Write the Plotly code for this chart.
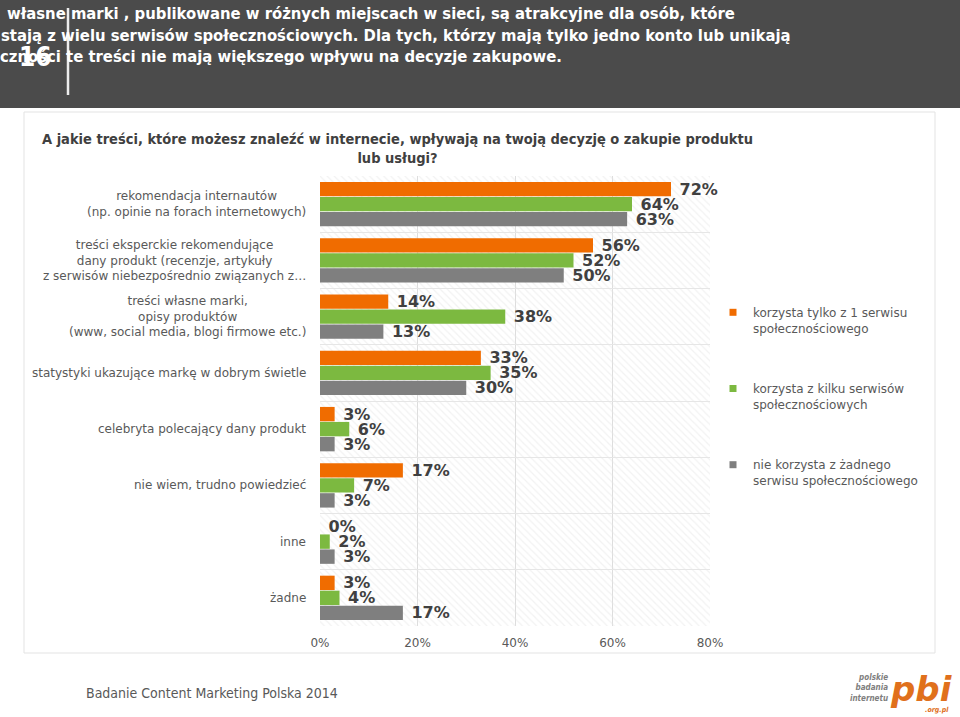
import plotly.graph_objects as go

categories = [
    "rekomendacja internautów<br>(np. opinie na forach internetowych)",
    "treści eksperckie rekomendujące<br>dany produkt (recenzje, artykuły<br>z serwisów niebezpośrednio związanych z…",
    "treści własne marki,<br>opisy produktów<br>(www, social media, blogi firmowe etc.)",
    "statystyki ukazujące markę w dobrym świetle",
    "celebryta polecający dany produkt",
    "nie wiem, trudno powiedzieć",
    "inne",
    "żadne",
]
series_names = [
    "korzysta tylko z 1 serwisu<br>społecznościowego",
    "korzysta z kilku serwisów<br>społecznościowych",
    "nie korzysta z żadnego<br>serwisu społecznościowego",
]
one_service = [72, 56, 14, 33, 3, 17, 0, 3]
several_services = [64, 52, 38, 35, 6, 7, 2, 4]
no_service = [63, 50, 13, 30, 3, 3, 3, 17]
series_values = [one_service, several_services, no_service]
colors = ["#F06C00", "#7CB940", "#7F7F7F"]
x_ticks = [0, 20, 40, 60, 80]
x_tick_labels = ["0%", "20%", "40%", "60%", "80%"]

title_text = ("A jakie treści, które możesz znaleźć w internecie, wpływają na twoją decyzję o zakupie produktu"
              "<br>lub usługi?")
header_lines = [
    "własne marki , publikowane w różnych miejscach w sieci, są atrakcyjne dla osób, które",
    "stają z wielu serwisów społecznościowych. Dla tych, którzy mają tylko jedno konto lub unikają",
    "czności te treści nie mają większego wpływu na decyzje zakupowe.",
]
footer_text = "Badanie Content Marketing Polska 2014"

W, H = 960, 717
L, R, T, B = 320, 250, 176, 91
PW, PH = W - L - R, H - T - B


def px(x):
    return (x - L) / PW


def py(y):
    return (H - B - y) / PH


NARROW = "DejaVu Sans Condensed, Liberation Sans Narrow, sans-serif"
SANS = "DejaVu Sans, Verdana, sans-serif"

fig = go.Figure()

# hatched plot-area background (decoration) on base axis
fig.add_trace(go.Bar(
    x=[x_ticks[-1]], y=[len(categories) / 2], width=[len(categories)], orientation="h",
    marker=dict(color="rgba(255,255,255,0)", line=dict(width=0),
                pattern=dict(shape="\\", fgcolor="#e6e6e6", bgcolor="rgba(255,255,255,0)",
                             size=5, solidity=0.25)),
    hoverinfo="skip", showlegend=False, xaxis="x", yaxis="y",
))

for name, vals, col in zip(series_names, series_values, colors):
    fig.add_trace(go.Bar(
        x=vals, y=categories, orientation="h", name=name,
        marker=dict(color=col, line=dict(width=0)),
        text=["\u00a0" + str(v) + "%" for v in vals],
        textposition="outside", constraintext="none",
        cliponaxis=False,
        textfont=dict(family=SANS, size=16, color="#404040", weight="bold"),
        showlegend=False, xaxis="x", yaxis="y2",
    ))

for i, (name, col) in enumerate(zip(series_names, colors)):
    fig.add_trace(go.Scatter(
        x=[None], y=[None], mode="markers", name=name, legendgroup=str(i),
        marker=dict(symbol="square", size=7, color=col),
        xaxis="x", yaxis="y2",
    ))

annotations = []
for c in categories:
    annotations.append(dict(
        x=px(308), xref="paper", y=c, yref="y2", text=c, showarrow=False,
        xanchor="right", yanchor="middle", align="center",
        font=dict(family=SANS, size=12, color="#595959"),
    ))

annotations.append(dict(
    x=px(397), xref="paper", y=py(148), yref="paper", text=title_text, showarrow=False,
    xanchor="center", yanchor="middle", align="center",
    font=dict(family=NARROW, size=14.5, color="#404040", weight="bold"),
))
for i, (line, x0) in enumerate(zip(header_lines, [5, -1, -2])):
    annotations.append(dict(
        x=px(x0), xref="paper", y=py(14 + 21 * i), yref="paper", text=line, showarrow=False,
        xanchor="left", yanchor="middle", align="left",
        font=dict(family=NARROW, size=16.5, color="#ffffff", weight="bold"),
    ))
annotations.append(dict(
    x=px(35), xref="paper", y=py(57), yref="paper", text="16", showarrow=False,
    xanchor="center", yanchor="middle",
    font=dict(family=NARROW, size=26, color="#ffffff", weight="bold"),
))
annotations.append(dict(
    x=px(84), xref="paper", y=py(693), yref="paper", text=footer_text, showarrow=False,
    xanchor="left", yanchor="middle",
    font=dict(family=NARROW, size=14, color="#595959"),
))
# logo
annotations.append(dict(
    x=px(921), xref="paper", y=py(689), yref="paper", text="<i>pbi</i>", showarrow=False,
    xanchor="center", yanchor="middle",
    font=dict(family="DejaVu Sans", size=34, color="#E0701C", weight="bold"),
))
annotations.append(dict(
    x=px(890), xref="paper", y=py(688), yref="paper",
    text="<i>polskie<br>badania<br>internetu</i>", showarrow=False,
    xanchor="right", yanchor="middle", align="right",
    font=dict(family=NARROW, size=8, color="#7F7F7F", weight="bold"),
))
annotations.append(dict(
    x=px(937), xref="paper", y=py(710), yref="paper", text="<i>.org.pl</i>", showarrow=False,
    xanchor="center", yanchor="middle",
    font=dict(family=NARROW, size=7, color="#E0701C", weight="bold"),
))

shapes = [
    # header band
    dict(type="rect", xref="paper", yref="paper", x0=px(-5), x1=px(W + 5), y0=py(108), y1=py(-5),
         fillcolor="#4B4B4B", line=dict(width=0), layer="below"),
    # card
    dict(type="rect", xref="paper", yref="paper", x0=px(24), x1=px(935), y0=py(653), y1=py(112),
         fillcolor="#ffffff", line=dict(width=1, color="#E3E3E3"), layer="below"),
    # header divider
    dict(type="line", xref="paper", yref="paper", x0=px(68), x1=px(68), y0=py(95), y1=py(8),
         line=dict(width=2.5, color="#EDEDED")),
]

fig.update_layout(
    width=W, height=H,
    margin=dict(l=L, r=R, t=T, b=B, autoexpand=False),
    paper_bgcolor="#ffffff", plot_bgcolor="rgba(0,0,0,0)",
    barmode="group", bargap=0.2, bargroupgap=0.04,
    xaxis=dict(range=[0, 80], tickvals=x_ticks, ticktext=x_tick_labels,
               showgrid=True, gridcolor="#DDDDDD", gridwidth=1, zeroline=False,
               showline=False, ticks="", ticklabelstandoff=8,
               tickfont=dict(family=SANS, size=12, color="#595959")),
    yaxis=dict(range=[0, len(categories)], dtick=1, tick0=0, showgrid=True, gridcolor="#E6E6E6",
               showticklabels=False, zeroline=False, showline=False, fixedrange=True),
    yaxis2=dict(overlaying="y", anchor="x", type="category", categoryorder="array",
                categoryarray=categories, range=[len(categories) - 0.5, -0.5],
                showticklabels=False, showgrid=False, zeroline=False, showline=False),
    legend=dict(x=px(713), y=py(298), xanchor="left", yanchor="top", xref="paper", yref="paper",
                valign="top", tracegroupgap=42, bgcolor="rgba(0,0,0,0)",
                font=dict(family=SANS, size=12, color="#595959")),
    annotations=annotations, shapes=shapes,
    showlegend=True,
)

fig.write_html("out.html", config={"displayModeBar": False},
               post_script="document.body.style.margin='0px';")
